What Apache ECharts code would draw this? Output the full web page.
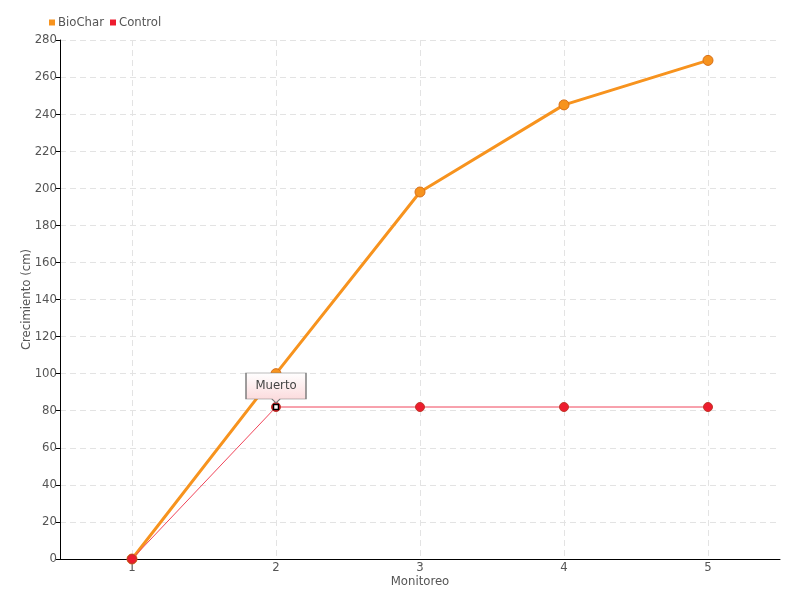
<!DOCTYPE html>
<html><head><meta charset="utf-8">
<script src="https://cdn.jsdelivr.net/npm/echarts@6/dist/echarts.min.js"></script>
<style>html,body{margin:0;padding:0;background:#fff}#c{width:800px;height:600px}</style>
</head><body><div id="c"></div>
<script>
var categories = ['1', '2', '3', '4', '5'];
var biochar = [0, 100, 198, 245, 269];
var control = [0, 82, 82, 82, 82];
var yTicks = {min: 0, max: 280, interval: 20};
var markLabel = 'Muerto';
var markIndex = 1;

var FONT = '"DejaVu Sans Condensed", "DejaVu Sans", sans-serif';
var chart = echarts.init(document.getElementById('c'));
chart.setOption({
  backgroundColor: '#fff',
  animation: false,
  textStyle: {fontFamily: FONT},
  legend: {
    left: 44, top: 11, itemWidth: 6, itemHeight: 6, itemGap: 6,
    icon: 'rect',
    itemStyle: {borderWidth: 0},
    textStyle: {color: '#555', fontSize: 13, fontFamily: FONT, padding: [0, 0, 0, -2]},
    data: ['BioChar', 'Control']
  },
  grid: {left: 60, right: 20, top: 40, bottom: 41},
  xAxis: {
    type: 'category', data: categories, boundaryGap: true,
    name: 'Monitoreo', nameLocation: 'middle', nameGap: 16, nameMoveOverlap: false,
    nameTextStyle: {color: '#555', fontSize: 13, fontFamily: FONT},
    axisLine: {lineStyle: {color: '#000', width: 1}},
    axisTick: {alignWithLabel: true, length: 6, lineStyle: {color: '#666'}},
    axisLabel: {color: '#555', fontSize: 13, margin: 2, fontFamily: FONT},
    splitLine: {show: true, alignWithLabel: true, interval: 0, lineStyle: {color: '#e3e3e3', type: [6, 4]}}
  },
  yAxis: {
    type: 'value', min: yTicks.min, max: yTicks.max, interval: yTicks.interval,
    name: 'Crecimiento (cm)', nameLocation: 'middle', nameGap: 27, nameMoveOverlap: false,
    nameTextStyle: {color: '#555', fontSize: 13, fontFamily: FONT},
    axisLine: {show: true, lineStyle: {color: '#000', width: 1}},
    axisTick: {show: true, length: 4, lineStyle: {color: '#000'}},
    axisLabel: {color: '#555', fontSize: 13, margin: 3, fontFamily: FONT},
    splitLine: {show: true, lineStyle: {color: '#e3e3e3', type: [6, 4]}}
  },
  series: [
    {
      name: 'BioChar', type: 'line', data: biochar,
      color: '#f7931e',
      lineStyle: {width: 3, color: '#f7931e'},
      symbol: 'circle', symbolSize: 10,
      itemStyle: {color: '#f7931e', borderColor: '#d8701a', borderWidth: 1},
      z: 2
    },
    {
      name: 'Control', type: 'line', data: control,
      color: '#ed1c2e',
      lineStyle: {width: 1, color: '#f0455a'},
      symbol: 'circle', symbolSize: 9,
      itemStyle: {color: '#ed1c2e', borderColor: '#c0392b', borderWidth: 1},
      z: 3,
      markPoint: {
        silent: true,
        z: 10,
        data: [
          {
            coord: [markIndex, control[markIndex]],
            symbol: 'path://M0,0 H60 V26 H34 L30,30 L26,26 H0 Z',
            symbolSize: [60, 30], symbolKeepAspect: false,
            symbolOffset: [0, -19],
            itemStyle: {
              color: {type: 'linear', x: 0, y: 0, x2: 0, y2: 1, colorStops: [
                {offset: 0, color: '#ffffff'}, {offset: 1, color: '#fbd6d8'}]},
              borderColor: '#777', borderWidth: 1
            },
            label: {show: true, formatter: markLabel, color: '#444', fontSize: 13,
                    fontFamily: FONT, position: 'inside', offset: [0, -2]}
          },
          {
            coord: [markIndex, control[markIndex]],
            symbol: 'rect', symbolSize: 5,
            itemStyle: {color: '#fff', borderColor: '#000', borderWidth: 1.5},
            label: {show: false}
          }
        ]
      }
    }
  ]
});
</script></body></html>
